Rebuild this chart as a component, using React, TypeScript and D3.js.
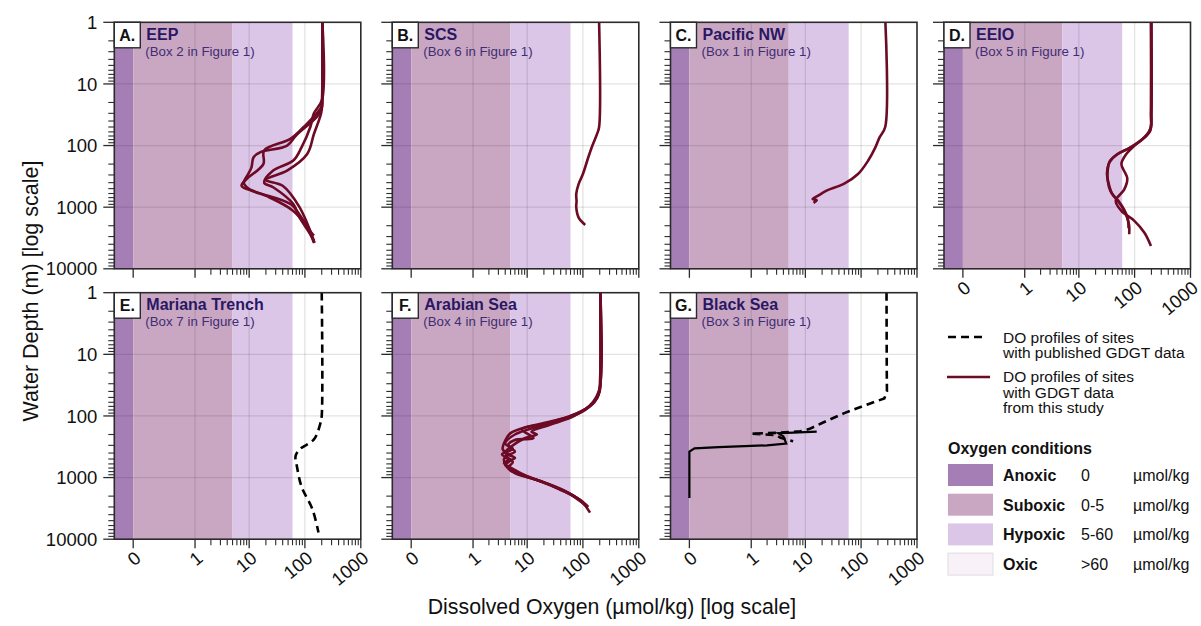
import React from "react";
import * as d3 from "d3";

// panel labels
const panelIds = ["A.", "B.", "C.", "D.", "E.", "F.", "G."];
const panelTitles = ["EEP", "SCS", "Pacific NW", "EEIO", "Mariana Trench", "Arabian Sea", "Black Sea"];
const panelBoxes = ["Box 2", "Box 6", "Box 1", "Box 5", "Box 7", "Box 4", "Box 3"];

const xTicks = [0, 1, 10, 100, 1000];
const yTicks = [1, 10, 100, 1000, 10000];

// oxygen conditions
const bandNames = ["Anoxic", "Suboxic", "Hypoxic", "Oxic"];
const bandRanges = ["0", "0-5", "5-60", ">60"];
const bandLimits = [[-0.1, 0], [0, 5], [5, 60], [60, 1000]];
const bandColors = ["#a57eb5", "#c9a7c3", "#dcc6e8", "#f8f2f8"];

// DO profiles, [O2 µmol/kg, depth m]
const eep1 = [[205, 1], [205, 15], [200, 25], [165, 34], [70, 68], [48, 100], [16, 128], [12, 155], [11, 226], [9.6, 290], [8, 400], [10, 510], [23, 690], [62, 1150], [110, 2150], [145, 3800]];
const eep2 = [[205, 1], [202, 18], [195, 24], [95, 50], [55, 78], [18.6, 120], [18, 200], [9, 350], [7.3, 450], [14, 575], [55, 890], [87, 1470], [125, 2450], [145, 2900]];
const eep3 = [[205, 1], [203, 18], [145, 30], [125, 50], [87, 107], [62, 175], [27, 255], [18.6, 400], [27, 475], [62, 890], [80, 1470], [125, 2760], [150, 3800]];
const eep4 = [[205, 1], [204, 20], [195, 30], [145, 65], [110, 137], [48, 255], [20, 360], [40, 450], [80, 1000], [145, 3500]];
const scs1 = [[195, 1], [195, 50], [180, 64], [148, 100], [125, 155], [100, 290], [84, 420], [76, 610], [77, 800], [76, 1000], [84, 1480], [110, 1940]];
const pnw1 = [[272, 1], [270, 50], [215, 73], [180, 107], [134, 175], [88, 290], [49, 420], [24, 540], [17, 650], [13.5, 740], [16, 770], [14, 850]];
const eeio1 = [[196, 1], [196, 30], [192, 55], [150, 73], [85, 107], [50, 137], [36, 180], [33, 250], [33, 370], [37, 550], [48, 750], [60, 1000], [72, 1400], [80, 2000], [80, 2750]];
const eeio2 = [[198, 1], [198, 30], [190, 58], [140, 78], [80, 110], [48, 140], [35, 190], [32, 280], [34, 400], [40, 620], [52, 800], [65, 1100], [75, 1500], [78, 2200]];
const eeio3 = [[200, 1], [200, 30], [195, 50], [160, 70], [100, 100], [70, 140], [58, 200], [68, 280], [74, 340], [65, 520], [46, 780], [58, 1150], [98, 1650], [150, 2600], [196, 4250]];
const arab1 = [[205, 1], [205, 20], [200, 40], [160, 60], [80, 90], [30, 120], [10, 150], [5, 190], [4, 250], [3.6, 350], [4.5, 420], [3.8, 500], [4.2, 650], [6, 850], [15, 1100], [38, 1550], [88, 2300], [134, 3700]];
const arab2 = [[205, 1], [203, 25], [190, 45], [130, 70], [60, 100], [20, 135], [8, 165], [13, 230], [6, 245], [4.5, 300], [6, 380], [4, 460], [5.5, 560], [4.5, 700], [7, 880], [18, 1150], [45, 1600], [95, 2400], [125, 3000]];
const arab3 = [[205, 1], [205, 30], [180, 50], [110, 80], [50, 110], [15, 150], [6, 200], [4, 280], [5.5, 340], [3.5, 420], [5, 520], [4, 620], [6, 800], [20, 1200], [50, 1700], [100, 2500]];
const arab4 = [[205, 1], [200, 35], [150, 60], [70, 100], [25, 140], [12, 180], [15, 200], [9, 230], [5, 320], [4, 400], [6, 480], [3.8, 580], [5.5, 720], [10, 950], [25, 1300], [60, 1900], [110, 2800]];
const mariana1 = [[200, 1], [200, 100], [190, 130], [145, 240], [80, 350], [68, 450], [72, 660], [87, 1400], [137, 3300], [175, 7800]];
const blackDashed = [[285, 1], [288, 20], [290, 40], [260, 52], [130, 65], [50, 90], [20, 130], [12, 162], [8, 178], [3, 188], [1, 193], [3, 205], [3.5, 225], [6, 258]];
const blackSolid = [[16, 180], [6, 186], [3.2, 190], [4, 215], [4.5, 280], [2, 300], [0.2, 320], [0.02, 335], [0, 380], [0, 2150]];

const studyProfiles = [[eep1, eep2, eep3, eep4], [scs1], [pnw1], [eeio1, eeio2, eeio3], [], [arab1, arab2, arab3, arab4], []];
const publishedProfiles = [[], [], [], [], [mariana1], [], [blackDashed]];
const solidBlackProfiles = [[], [], [], [], [], [], [blackSolid]];

const W = 1201, H = 626;
const PW = 246.5, PH = 246.5;
const panelLeft = [114.3, 392.3, 670.5, 944, 114.3, 392.3, 670.5];
const panelTop = [22.3, 22.3, 22.3, 22.3, 292.7, 292.7, 292.7];
const font = "'Liberation Sans', Arial, Helvetica, sans-serif";
const maroon = "#6d0a25";

const x = d3.scaleSymlog().constant(0.085).domain([-0.1, 1000]).range([0, PW]);
const y = d3.scaleLog().domain([1, 10000]).range([0, PH]);

const xMinor: number[] = [];
[1, 10, 100].forEach((d) => d3.range(2, 10).forEach((k) => xMinor.push(k * d)));
const yMinor: number[] = [];
[1, 10, 100, 1000].forEach((d) => d3.range(2, 10).forEach((k) => yMinor.push(k * d)));

const smooth = d3.line<number[]>().x((d) => x(d[0])).y((d) => y(d[1])).curve(d3.curveCatmullRom.alpha(0.5));
const straight = d3.line<number[]>().x((d) => x(d[0])).y((d) => y(d[1]));

function Panel({ i }: { i: number }) {
  const showX = i >= 3;
  const showY = i === 0 || i === 4;
  const curveFn = i === 6 ? straight : smooth;
  return (
    <g transform={`translate(${panelLeft[i]},${panelTop[i]})`}>
      {bandLimits.slice(0, 3).map((b, j) => (
        <rect key={j} x={x(b[0])} y={0} width={x(b[1]) - x(b[0])} height={PH} fill={bandColors[j]} />
      ))}
      {[1, 10, 100].map((t) => (
        <line key={"gx" + t} x1={x(t)} x2={x(t)} y1={0} y2={PH} stroke="rgba(0,0,0,0.11)" strokeWidth={1.3} />
      ))}
      {[10, 100, 1000].map((t) => (
        <line key={"gy" + t} x1={0} x2={PW} y1={y(t)} y2={y(t)} stroke="rgba(0,0,0,0.11)" strokeWidth={1.3} />
      ))}
      {publishedProfiles[i].map((p, j) => (
        <path key={"pub" + j} d={curveFn(p) || ""} fill="none" stroke="#000" strokeWidth={2.6} strokeDasharray="8,5" />
      ))}
      {solidBlackProfiles[i].map((p, j) => (
        <path key={"sb" + j} d={straight(p) || ""} fill="none" stroke="#000" strokeWidth={2.2} />
      ))}
      {studyProfiles[i].map((p, j) => (
        <path key={"st" + j} d={smooth(p) || ""} fill="none" stroke={maroon} strokeWidth={2.6} strokeLinejoin="round" />
      ))}
      <rect x={0} y={0} width={PW} height={PH} fill="none" stroke="#2b2b2b" strokeWidth={1.6} />
      {yTicks.map((t) => (
        <line key={"ty" + t} x1={-11} x2={0} y1={y(t)} y2={y(t)} stroke="#2b2b2b" strokeWidth={1.3} />
      ))}
      {yMinor.map((t) => (
        <line key={"my" + t} x1={-6} x2={0} y1={y(t)} y2={y(t)} stroke="#2b2b2b" strokeWidth={1.1} />
      ))}
      {xTicks.map((t) => (
        <line key={"tx" + t} x1={x(t)} x2={x(t)} y1={PH} y2={PH + 9} stroke="#2b2b2b" strokeWidth={1.3} />
      ))}
      {xMinor.map((t) => (
        <line key={"mx" + t} x1={x(t)} x2={x(t)} y1={PH} y2={PH + 6} stroke="#2b2b2b" strokeWidth={1.1} />
      ))}
      {showY && yTicks.map((t) => (
        <text key={"ly" + t} x={-17} y={y(t)} dy="0.36em" textAnchor="end" fontSize={18.5} fontFamily={font} fill="#111">{t}</text>
      ))}
      {showX && xTicks.map((t) => (
        <text key={"lx" + t} transform={`translate(${x(t) + 9},${PH + 21}) rotate(-40)`} textAnchor="end" fontSize={18.5} fontFamily={font} fill="#111">{t}</text>
      ))}
      <rect x={0} y={0} width={26} height={25.5} fill="#fff" stroke="#2b2b2b" strokeWidth={1.4} />
      <text x={13} y={18.5} textAnchor="middle" fontSize={16} fontWeight="bold" fontFamily={font} fill="#111">{panelIds[i]}</text>
      <text x={32} y={17.5} fontSize={16} fontWeight="bold" fontFamily={font} fill="#2a1763">{panelTitles[i]}</text>
      <text x={31} y={33.5} fontSize={13.3} fontFamily={font} fill="#3f2d72">{`(${panelBoxes[i]} in Figure 1)`}</text>
    </g>
  );
}

export default function App() {
  const lx = 948;
  return (
    <svg width={W} height={H} style={{ position: "absolute", left: 0, top: 0, background: "#fff" }}>
      <rect width={W} height={H} fill="#fff" />
      {panelIds.map((_, i) => <Panel key={i} i={i} />)}
      <text transform="translate(38,291) rotate(-90)" textAnchor="middle" fontSize={21.5} fontFamily={font} fill="#111">Water Depth (m) [log scale]</text>
      <text x={612} y={614} textAnchor="middle" fontSize={21.3} fontFamily={font} fill="#111">Dissolved Oxygen (µmol/kg) [log scale]</text>
      <line x1={lx} x2={lx + 37} y1={337} y2={337} stroke="#000" strokeWidth={2.6} strokeDasharray="8,5" />
      <text x={1003} y={343} fontSize={15.5} fontFamily={font} fill="#111">DO profiles of sites</text>
      <text x={1003} y={358} fontSize={15.5} fontFamily={font} fill="#111">with published GDGT data</text>
      <line x1={lx - 1} x2={lx + 42} y1={377} y2={377} stroke={maroon} strokeWidth={2.6} />
      <text x={1003} y={382} fontSize={15.5} fontFamily={font} fill="#111">DO profiles of sites</text>
      <text x={1003} y={398} fontSize={15.5} fontFamily={font} fill="#111">with GDGT data</text>
      <text x={1003} y={413} fontSize={15.5} fontFamily={font} fill="#111">from this study</text>
      <text x={lx} y={454} fontSize={16} fontWeight="bold" fontFamily={font} fill="#111">Oxygen conditions</text>
      {bandNames.map((n, j) => {
        const cy = 475 + j * 29.7;
        return (
          <g key={n}>
            <rect x={lx} y={cy - 11} width={45} height={22} fill={bandColors[j]} stroke={j === 3 ? "#e2dae2" : "none"} />
            <text x={1003} y={cy + 6} fontSize={16} fontWeight="bold" fontFamily={font} fill="#111">{n}</text>
            <text x={1081} y={cy + 6} fontSize={16} fontFamily={font} fill="#111">{bandRanges[j]}</text>
            <text x={1133} y={cy + 6} fontSize={16} fontFamily={font} fill="#111">µmol/kg</text>
          </g>
        );
      })}
    </svg>
  );
}
